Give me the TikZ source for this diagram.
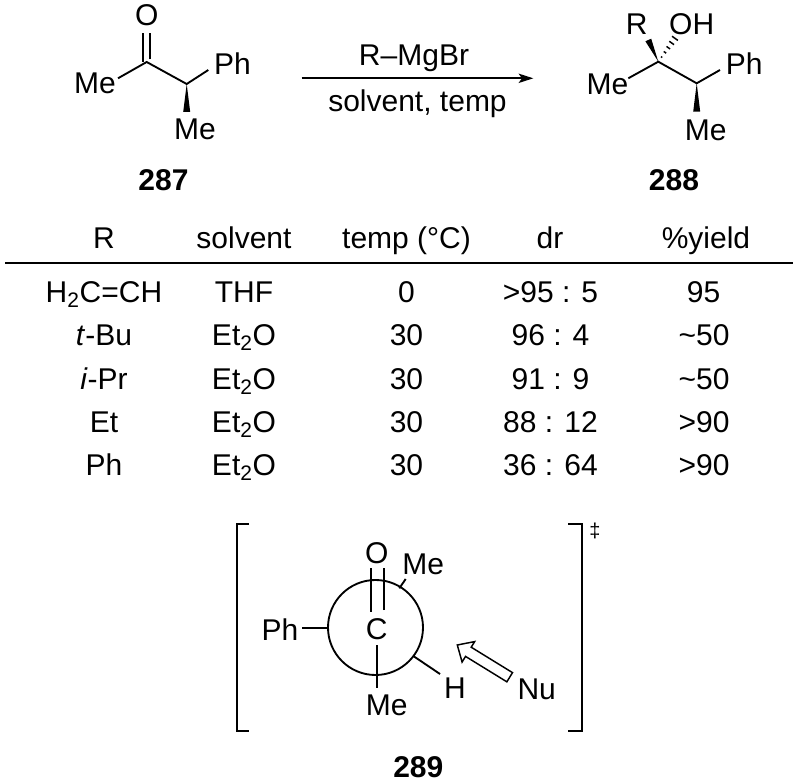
\documentclass[tikz,border=0pt]{standalone}
\usepackage{fontspec}
\setmainfont{Liberation Sans}
\usetikzlibrary{arrows.meta,calc}
\newcommand{\chemsize}{\fontsize{22.5}{27}\selectfont}
\tikzset{every picture/.style={line width=1.4pt}}
\tikzset{atom/.style={inner sep=0pt,text height=16.2pt,text depth=0pt,font=\chemsize},
  cpd/.style={atom,font=\chemsize\bfseries},
  hash/.style={line width=1.1pt},
  hollow/.style={line width=1.1pt,line join=miter}}

\begin{document}
\begin{tikzpicture}[x=0.75pt,y=0.75pt,yscale=-1,xscale=1]
	\useasboundingbox (0,0) rectangle (800,784);

	%Coordinates: ketone 287
	\coordinate (c1) at (146.7,62);
	\coordinate (c2) at (186.7,84);
	\coordinate (o1b) at (146.7,33.3);
	\coordinate (me1b) at (118,78.3);
	\coordinate (ph1b) at (208.3,70);
	\coordinate (w2) at (186.7,112);
	%Coordinates: alcohol 288
	\coordinate (c3) at (658.3,61.7);
	\coordinate (c4) at (696.7,83.3);
	\coordinate (rw) at (648.3,40);
	\coordinate (me3b) at (628.3,78.3);
	\coordinate (ph2b) at (720,70);
	\coordinate (w4) at (696.7,111.7);
	%Coordinates: arrow
	\coordinate (arr1) at (301.7,78.3);
	\coordinate (arr2) at (533.3,78.3);
	%Coordinates: Newman projection 289
	\coordinate (nc) at (375.5,627.5);
	\coordinate (cb) at (377.5,611.5);
	\coordinate (ob) at (377.5,568.3);
	\coordinate (m5a) at (399.3,588.3);
	\coordinate (m5b) at (405.7,579);
	\coordinate (p3a) at (328,628.3);
	\coordinate (p3b) at (301.7,628.3);
	\coordinate (m6a) at (376.7,645);
	\coordinate (m6b) at (376.7,688.3);
	\coordinate (h1a) at (413.3,656);
	\coordinate (h1b) at (440,674);
	\coordinate (nua) at (457.3,645);
	\coordinate (bl) at (236.7,524.3);
	\coordinate (br) at (581.7,524.3);

	%Straight Lines: 287
	\draw ($(c1)+(-3.5,0)$) -- ($(o1b)+(-3.5,0)$) ;
	\draw ($(c1)+(3.5,-2.5)$) -- ($(o1b)+(3.5,0)$) ;
	\draw (me1b) -- (c1) -- (c2) -- (ph1b) ;
	%Shape: Wedge
	\fill (c2) -- ($(w2)+(-3.5,0)$) -- ($(w2)+(3.5,0)$) -- cycle ;

	%Straight Lines: 288
	\draw (me3b) -- (c3) -- (c4) -- (ph2b) ;
	%Shape: Wedge
	\fill (c3) -- ($(rw)+(2.9,-1.3)$) -- ($(rw)+(-2.9,1.3)$) -- cycle ;
	\fill (c4) -- ($(w4)+(-3.5,0)$) -- ($(w4)+(3.5,0)$) -- cycle ;
	%Straight Lines: hashed bond
	\draw [hash, shift={(c3)}, rotate=-54.5] (5.7,-0.8) -- (5.7,0.8) ;
	\draw [hash, shift={(c3)}, rotate=-54.5] (11.5,-1.5) -- (11.5,1.5) ;
	\draw [hash, shift={(c3)}, rotate=-54.5] (17.2,-2.2) -- (17.2,2.2) ;
	\draw [hash, shift={(c3)}, rotate=-54.5] (23,-2.9) -- (23,2.9) ;
	\draw [hash, shift={(c3)}, rotate=-54.5] (28.7,-3.6) -- (28.7,3.6) ;

	%Straight Lines: reaction arrow
	\draw [line width=1.2pt, -{Stealth[length=11pt,width=7pt,inset=2.5pt]}] (arr1) -- (arr2) ;

	%Straight Lines: table rule
	\draw (5,262.7) -- (793,262.7) ;

	%Shape: Circle
	\draw (nc) circle [radius=47.5] ;
	%Straight Lines: Newman bonds
	\draw ($(cb)+(-6.5,0)$) -- ($(ob)+(-6.5,0)$) ;
	\draw ($(cb)+(6.5,-1.5)$) -- ($(ob)+(6.5,0)$) ;
	\draw (m5a) -- (m5b) ;
	\draw (p3a) -- (p3b) ;
	\draw (m6a) -- (m6b) ;
	\draw (h1a) -- (h1b) ;
	%Shape: Hollow arrow
	\draw [hollow, shift={(nua)}, rotate=31.6] (0,0) -- (13,-12) -- (13,-5.4) -- (61.5,-5.4) -- (61.5,5.4) -- (13,5.4) -- (13,12) -- cycle ;
	%Shape: Brackets
	\draw ($(bl)+(12.3,0)$) -- (bl) -- ($(bl)+(0,206.4)$) -- ($(bl)+(12.3,206.4)$) ;
	\draw ($(br)+(-13.7,0)$) -- (br) -- ($(br)+(0,206.4)$) -- ($(br)+(-13.7,206.4)$) ;

	% Text Node
	\node [atom] (o1) at (146.7,15) {O};
	% Text Node
	\node [atom] (me1) at (95,83) {Me};
	% Text Node
	\node [atom] (ph1) at (232.5,63.3) {Ph};
	% Text Node
	\node [atom] (me2) at (195,128.3) {Me};
	% Text Node
	\node [cpd] (cpd287) at (163.5,180) {287};
	% Text Node
	\node [atom] (r1) at (636.7,23.3) {R};
	% Text Node
	\node [atom] (oh1) at (691.7,23.3) {OH};
	% Text Node
	\node [atom] (me3) at (607.5,83.3) {Me};
	% Text Node
	\node [atom] (ph2) at (744.2,64) {Ph};
	% Text Node
	\node [atom] (me4) at (705.8,130) {Me};
	% Text Node
	\node [cpd] (cpd288) at (674,180) {288};
	% Text Node
	\node [atom] (reag) at (414,55) {R–MgBr};
	% Text Node
	\node [atom] (cond) at (417.5,101) {solvent, temp};

	% Text Node: table header
	\node [atom] (hr) at (104,238) {R};
	\node [atom] (hs) at (244,238) {solvent};
	\node [atom] (ht) at (406.5,238) {temp (°C)};
	\node [atom] (hd) at (550,238) {dr};
	\node [atom] (hy) at (706,238) {\%yield};
	% Text Node: row 1
	\node [atom] (ra) at (104,291.7) {H\textsubscript{2}C=CH};
	\node [atom] (sa) at (244,291.7) {THF};
	\node [atom] (ta) at (406.5,291.7) {0};
	\node [atom] (da) at (550.5,291.7) {>95 : 5};
	\node [atom] (ya) at (703.5,291.7) {95};
	% Text Node: row 2
	\node [atom] (rb) at (104,335) {\textit{t}-Bu};
	\node [atom] (sb) at (244,335) {Et\textsubscript{2}O};
	\node [atom] (tb) at (406.5,335) {30};
	\node [atom] (db) at (550.5,335) {96 : 4};
	\node [atom] (yb) at (704,335) {\textasciitilde50};
	% Text Node: row 3
	\node [atom] (rc) at (104,378.3) {\textit{i}-Pr};
	\node [atom] (sc) at (244,378.3) {Et\textsubscript{2}O};
	\node [atom] (tc) at (406.5,378.3) {30};
	\node [atom] (dc) at (550.5,378.3) {91 : 9};
	\node [atom] (yc) at (704,378.3) {\textasciitilde50};
	% Text Node: row 4
	\node [atom] (rd) at (104,421.7) {Et};
	\node [atom] (sd) at (244,421.7) {Et\textsubscript{2}O};
	\node [atom] (td) at (406.5,421.7) {30};
	\node [atom] (dd) at (550.5,421.7) {88 : 12};
	\node [atom] (yd) at (704,421.7) {>90};
	% Text Node: row 5
	\node [atom] (re) at (104,465) {Ph};
	\node [atom] (se) at (244,465) {Et\textsubscript{2}O};
	\node [atom] (te) at (406.5,465) {30};
	\node [atom] (de) at (550.5,465) {36 : 64};
	\node [atom] (ye) at (704,465) {>90};

	% Text Node
	\node [atom] (o2) at (376.7,552.5) {O};
	% Text Node
	\node [atom] (cn) at (376.7,629) {C};
	% Text Node
	\node [atom] (me5) at (423.3,563.3) {Me};
	% Text Node
	\node [atom] (ph3) at (280,630) {Ph};
	% Text Node
	\node [atom] (me6) at (386.7,705) {Me};
	% Text Node
	\node [atom] (h1) at (455,687.5) {H};
	% Text Node
	\node [atom] (nu) at (536.7,688.3) {Nu};
	% Text Node
	\node [atom, text height=10.8pt, font=\fontsize{15}{18}\selectfont] (ddag) at (595,530.5) {‡};
	% Text Node
	\node [cpd] (cpd289) at (418.3,766.7) {289};

\end{tikzpicture}
\end{document}
